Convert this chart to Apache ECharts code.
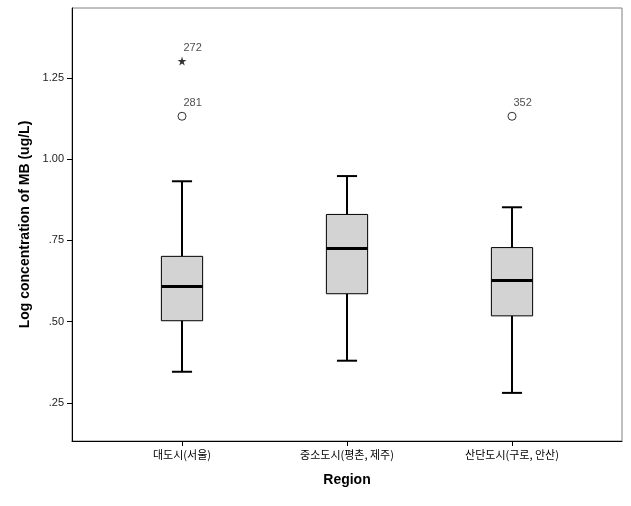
<!DOCTYPE html>
<html>
<head>
<meta charset="utf-8">
<script src="https://cdn.jsdelivr.net/npm/echarts@6/dist/echarts.min.js"></script>
<style>html,body{margin:0;padding:0;background:#fff;}#c{width:631px;height:506px;}</style>
</head>
<body>
<div id="c"></div>
<script>
const categories = ['대도시(서울)', '중소도시(평촌, 제주)', '산단도시(구로, 안산)'];
const whiskerLow = [0.346, 0.380, 0.281];
const q1 = [0.503, 0.586, 0.518];
const median = [0.608, 0.725, 0.627];
const q3 = [0.701, 0.830, 0.728];
const whiskerHigh = [0.932, 0.948, 0.852];
const outlierCat = [0, 0, 2];
const outlierVal = [1.302, 1.132, 1.132];
const outlierId = ['272', '281', '352'];
const outlierExtreme = [true, false, false];
const yTicks = [0.25, 0.50, 0.75, 1.00, 1.25];
const yMin = 0.133, yMax = 1.465;

const boxData = categories.map((c, i) => [i, whiskerLow[i], q1[i], median[i], q3[i], whiskerHigh[i]]);
const circles = [], stars = [];
outlierVal.forEach((v, i) => {
  const item = { value: [outlierCat[i], v], name: outlierId[i] };
  (outlierExtreme[i] ? stars : circles).push(item);
});

const starPath = 'path://M50,0 L61,35 L98,35 L68,57 L79,91 L50,70 L21,91 L32,57 L2,35 L39,35 Z';
const font = '"Liberation Sans", Arial, sans-serif';

const chart = echarts.init(document.getElementById('c'), null, { renderer: 'canvas' });
chart.setOption({
  animation: false,
  backgroundColor: '#fff',
  grid: [
    { left: 72, top: 8, right: 9, bottom: 65, show: true, borderColor: '#808080', borderWidth: 1, backgroundColor: 'transparent' },
    { left: 99.5, top: 8, right: 36.5, bottom: 65 }
  ],
  xAxis: [
    { type: 'value', gridIndex: 0, min: 0, max: 1, axisLine: { show: true, onZero: false, lineStyle: { color: '#000', width: 1 } }, axisTick: { show: false }, axisLabel: { show: false }, splitLine: { show: false } },
    { type: 'category', gridIndex: 1, data: categories,
      axisLine: { show: false }, axisTick: { show: true, alignWithLabel: true, length: 5, lineStyle: { color: '#000' } },
      axisLabel: { fontFamily: '"Noto Sans CJK KR", sans-serif', fontSize: 11, color: '#000', margin: 8 },
      name: 'Region', nameLocation: 'middle', nameGap: 32, nameTextStyle: { fontFamily: font, fontWeight: 'bold', fontSize: 14, color: '#000' } }
  ],
  yAxis: [
    { type: 'value', gridIndex: 0, min: yMin, max: yMax,
      axisLine: { show: true, onZero: false, lineStyle: { color: '#000', width: 1 } },
      axisTick: { show: true, length: 5, customValues: yTicks, lineStyle: { color: '#000' } },
      axisLabel: { customValues: yTicks, margin: 8, fontFamily: font, fontSize: 11, color: '#222',
        formatter: v => v.toFixed(2).replace(/^0/, '') },
      splitLine: { show: false },
      name: 'Log concentration of MB (ug/L)', nameLocation: 'middle', nameGap: 36, nameRotate: 90,
      nameTextStyle: { fontFamily: font, fontWeight: 'bold', fontSize: 14, color: '#000' } },
    { type: 'value', gridIndex: 1, min: yMin, max: yMax, show: false, splitLine: { show: false } }
  ],
  series: [
    {
      type: 'custom', xAxisIndex: 1, yAxisIndex: 1, data: boxData,
      renderItem: function (params, api) {
        const x = api.value(0);
        const band = api.size([1, 0])[0];
        const hw = band * 0.125, cw = band * 0.061;
        const pLo = api.coord([x, api.value(1)]);
        const pQ1 = api.coord([x, api.value(2)]);
        const pMed = api.coord([x, api.value(3)]);
        const pQ3 = api.coord([x, api.value(4)]);
        const pHi = api.coord([x, api.value(5)]);
        const cx = pMed[0];
        const ls = { stroke: '#000', lineWidth: 2 };
        return {
          type: 'group',
          children: [
            { type: 'line', shape: { x1: cx, y1: pQ3[1], x2: cx, y2: pHi[1] }, style: ls },
            { type: 'line', shape: { x1: cx, y1: pQ1[1], x2: cx, y2: pLo[1] }, style: ls },
            { type: 'line', shape: { x1: cx - cw, y1: pHi[1], x2: cx + cw, y2: pHi[1] }, style: ls },
            { type: 'line', shape: { x1: cx - cw, y1: pLo[1], x2: cx + cw, y2: pLo[1] }, style: ls },
            { type: 'rect', shape: { x: cx - hw, y: pQ3[1], width: 2 * hw, height: pQ1[1] - pQ3[1] },
              style: { fill: '#d3d3d3', stroke: '#000', lineWidth: 1 } },
            { type: 'line', shape: { x1: cx - hw, y1: pMed[1], x2: cx + hw, y2: pMed[1] }, style: { stroke: '#000', lineWidth: 3 } }
          ]
        };
      }
    },
    {
      type: 'scatter', xAxisIndex: 1, yAxisIndex: 1, data: circles, symbol: 'circle', symbolSize: 8,
      itemStyle: { color: '#fff', borderColor: '#000', borderWidth: 1 },
      label: { show: true, formatter: '{b}', position: [6, -14], fontFamily: font, fontSize: 11, color: '#222' }
    },
    {
      type: 'scatter', xAxisIndex: 1, yAxisIndex: 1, data: stars, symbol: starPath, symbolSize: 9,
      itemStyle: { color: '#000' },
      label: { show: true, formatter: '{b}', position: [6, -14], fontFamily: font, fontSize: 11, color: '#222' }
    }
  ]
});
</script>
</body>
</html>
